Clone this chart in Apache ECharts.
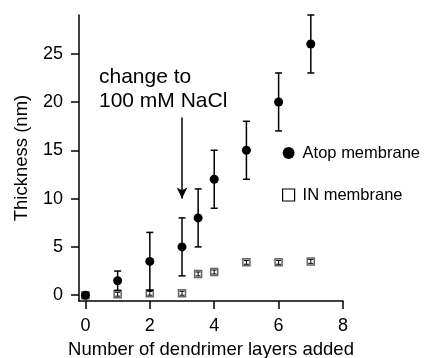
<!DOCTYPE html>
<html>
<head>
<meta charset="utf-8">
<script src="https://cdn.jsdelivr.net/npm/echarts@6/dist/echarts.min.js"></script>
<style>
  html, body { margin: 0; padding: 0; background: #fff; }
  #chart { width: 426px; height: 358px; }
</style>
</head>
<body>
<div id="chart"></div>
<script>
// data
const atopX = [0, 1, 2, 3, 3.5, 4, 5, 6, 7]
const atopY = [0, 1.5, 3.5, 5, 8, 12, 15, 20, 26]
const atopErr = [0, 1, 3, 3, 3, 3, 3, 3, 3]

const inX = [0, 1, 2, 3, 3.5, 4, 5, 6, 7]
const inY = [0, 0.1, 0.2, 0.2, 2.2, 2.4, 3.4, 3.4, 3.5]
const inErr = [0.2, 0.2, 0.2, 0.2, 0.2, 0.2, 0.2, 0.2, 0.2]

const xTicks = [0, 2, 4, 6, 8]
const yTicks = [0, 5, 10, 15, 20, 25]

const font = 'Liberation Sans, Arial, sans-serif'

const chart = echarts.init(document.getElementById('chart'))

// 誤差棒 (custom series)
function errorBar(capHalf, width, color) {
  return function (params, api) {
    const x = api.value(0)
    const lo = api.coord([x, api.value(1)])
    const hi = api.coord([x, api.value(2)])
    const style = { stroke: color, lineWidth: width }
    return {
      type: 'group',
      children: [
        { type: 'line', shape: { x1: lo[0], y1: lo[1], x2: hi[0], y2: hi[1] }, style },
        { type: 'line', shape: { x1: lo[0] - capHalf, y1: lo[1], x2: lo[0] + capHalf, y2: lo[1] }, style },
        { type: 'line', shape: { x1: hi[0] - capHalf, y1: hi[1], x2: hi[0] + capHalf, y2: hi[1] }, style }
      ]
    }
  }
}

const atopData = atopX.map((x, i) => [x, atopY[i]])
const atopErrData = atopX.map((x, i) => [x, atopY[i] - atopErr[i], atopY[i] + atopErr[i]])
const inData = inX.map((x, i) => [x, inY[i]])
const inErrData = inX.map((x, i) => [x, inY[i] - inErr[i], inY[i] + inErr[i]])

const option = {
  animation: false,
  grid: { left: 79, right: 83, top: 15, bottom: 57, outerBoundsMode: 'none', containLabel: false },
  xAxis: {
    type: 'value',
    min: -0.2,
    max: 8,
    name: 'Number of dendrimer layers added',
    nameLocation: 'middle',
    nameGap: 39,
    nameTextStyle: { fontFamily: font, fontSize: 18.5, color: '#000' },
    axisLine: { onZero: false, lineStyle: { color: '#000', width: 1.5 } },
    axisTick: { customValues: xTicks, length: 8, lineStyle: { color: '#000', width: 1.5 } },
    axisLabel: { customValues: xTicks, margin: 16, fontFamily: font, fontSize: 18, color: '#000' },
    splitLine: { show: false }
  },
  yAxis: {
    type: 'value',
    min: -0.6,
    max: 29,
    name: 'Thickness (nm)',
    nameLocation: 'middle',
    nameGap: 48,
    nameTextStyle: { fontFamily: font, fontSize: 18.5, color: '#000' },
    axisLine: { onZero: false, lineStyle: { color: '#000', width: 1.5 } },
    axisTick: { customValues: yTicks, length: 8, lineStyle: { color: '#000', width: 1.5 } },
    axisLabel: { customValues: yTicks, margin: 16, fontFamily: font, fontSize: 18, color: '#000' },
    splitLine: { show: false }
  },
  legend: {
    orient: 'vertical',
    left: 277,
    top: 139,
    itemGap: 24,
    itemWidth: 12,
    itemHeight: 12,
    textStyle: { fontFamily: font, fontSize: 16.5, lineHeight: 18, color: '#000', padding: [0, 0, 0, 3] },
    data: [
      { name: 'Atop membrane', icon: 'circle' },
      { name: 'IN membrane', icon: 'rect', itemStyle: { color: '#fff', borderColor: '#000', borderWidth: 1.2 } }
    ]
  },
  graphic: [
    {
      type: 'text',
      left: 99,
      top: 65,
      style: {
        text: 'change to\n100 mM NaCl',
        font: '21px ' + font,
        fill: '#000',
        lineHeight: 24
      }
    }
  ],
  series: [
    {
      type: 'custom',
      name: 'inErr',
      data: inErrData,
      renderItem: errorBar(2.5, 1, '#000'),
      encode: { x: 0, y: [1, 2] },
      z: 3
    },
    {
      type: 'scatter',
      name: 'IN membrane',
      data: inData,
      symbol: 'rect',
      symbolSize: 7,
      itemStyle: { color: 'rgba(255,255,255,0)', borderColor: '#666', borderWidth: 1.5, opacity: 1 },
      z: 2
    },
    {
      type: 'custom',
      name: 'atopErr',
      data: atopErrData,
      renderItem: errorBar(3.5, 1.5, '#000'),
      encode: { x: 0, y: [1, 2] },
      z: 4
    },
    {
      type: 'scatter',
      name: 'Atop membrane',
      data: atopData,
      symbol: 'circle',
      symbolSize: 9,
      itemStyle: { color: '#000', opacity: 1 },
      z: 5,
      markLine: {
        silent: true,
        symbol: ['none', 'arrow'],
        symbolSize: [8, 11],
        label: { show: false },
        lineStyle: { color: '#000', width: 1.5, type: 'solid' },
        data: [[{ coord: [3, 18.4] }, { coord: [3, 10] }]]
      }
    }
  ]
}

chart.setOption(option)
window.addEventListener('resize', chart.resize)
</script>
</body>
</html>
